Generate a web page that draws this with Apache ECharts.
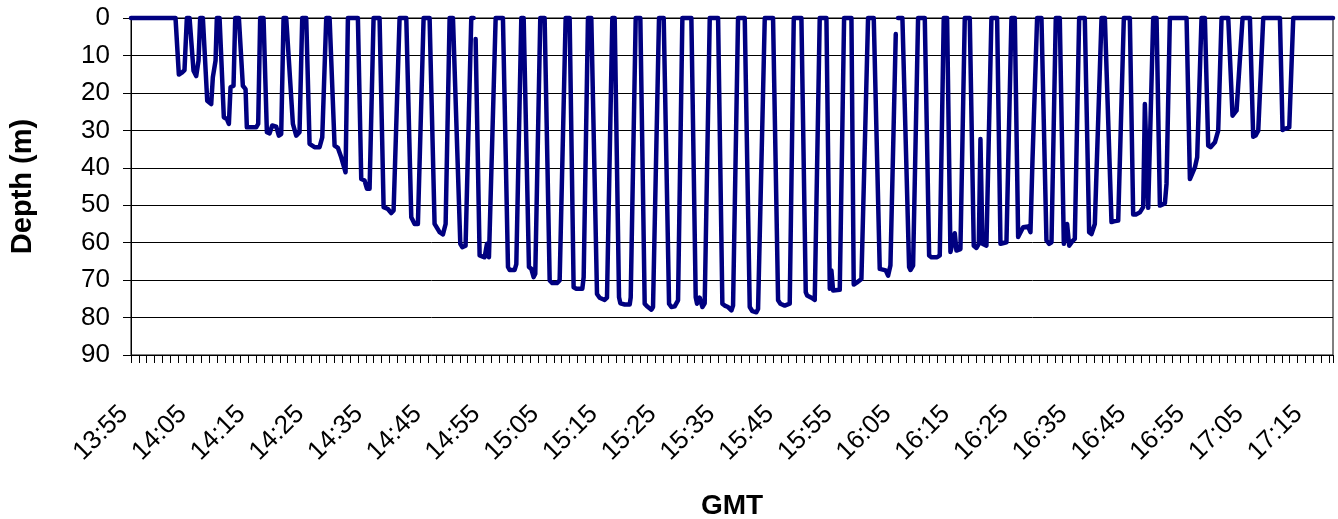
<!DOCTYPE html>
<html>
<head>
<meta charset="utf-8">
<title>Dive depth profile</title>
<script src="https://cdn.jsdelivr.net/npm/echarts@6/dist/echarts.min.js"></script>
<style>
    html, body { margin: 0; padding: 0; background: #fff; }
    #main { width: 1338px; height: 519px; }
</style>
</head>
<body>
<div id="main"></div>
<script>
// minutes after 13:55 GMT, null = gap in the record
var diveMinutes = [
    0, 7.58, 8.15, 8.72, 9.11, 9.51,
    9.97, 10.65, 11.10, 11.50, 11.78,
    12.24, 12.98, 13.66, 13.94, 14.40, 14.62,
    15.08, 15.81, 16.33, 16.67, 16.95, 17.46, 17.75,
    18.37, 19.05, 19.51, 19.73, 21.32, 21.66, 22.00,
    22.57, 23.14, 23.60, 24.05, 24.73, 25.18, 25.58, 25.98,
    26.43, 27.57, 28.14, 28.70, 29.16,
    29.84, 30.41, 31.26, 32.11, 32.57, 33.25,
    33.82, 34.67, 35.24, 35.80, 36.54, 36.94,
    38.64, 39.21, 39.78, 40.18, 40.63, 41.31,
    42.33, 43.02, 43.75, 44.32, 44.72, 45.74,
    46.88, 47.73, 48.30, 48.86, 49.83,
    50.85, 51.70, 52.55, 53.12, 53.58, 54.26,
    54.83, 56.08, 56.42, 56.98, 57.21, 57.95, 58.35,
    null, 58.69, 59.37, 60.22, 60.62, 60.96, 62.10,
    63.34, 64.20, 64.48, 65.33, 65.62, 66.47,
    66.87, 67.77, 68.17, 68.57, 68.85, 69.70,
    70.44, 71.30, 71.75, 72.54, 73.00, 74.02,
    74.70, 75.38, 75.84, 76.86, 77.09, 77.82,
    78.39, 79.36, 79.81, 80.66, 81.06, 81.97,
    82.37, 83.11, 83.34, 84.08, 84.93, 85.10, 85.95,
    86.74, 87.48, 87.88, 88.62, 88.90, 89.92,
    90.72, 91.63, 92.03, 92.59, 93.16, 93.90,
    95.43, 96.17, 96.40, 96.85, 97.31, 97.70, 98.56,
    99.98, 100.71, 101.11, 101.68, 102.25, 102.53, 103.38,
    104.52, 105.37, 105.82, 106.50, 106.79, 107.93,
    109.34, 110.20, 110.59, 111.33, 112.18, 112.87,
    114.17, 114.91, 115.14, 115.88, 116.44, 117.29,
    118.43, 119.00, 119.28, 119.57, 120.70, 121.44,
    122.69, 123.08, 123.65, 124.39, 125.52,
    126.49, 127.51, 127.79, 128.53, 128.93, 129.33, 130.24,
    null, 130.63, 131.37, 132.51, 132.74, 133.19, 134.04,
    135.18, 135.92, 136.31, 137.28, 137.73, 138.41,
    138.98, 139.55, 139.89, 140.29, 140.57, 141.25, 141.99,
    142.84, 143.52, 143.98, 144.38, 144.66, 145.00, 145.68, 145.97, 146.53,
    147.50, 148.07, 148.41, 149.09, 149.37, 149.94,
    150.51, 151.08, 151.36, 151.93, 152.78, 153.18, 153.52, 154.31,
    155.05, 155.90, 156.36, 156.76, 157.49,
    158.17, 158.86, 159.20, 159.42, 159.77, 160.33, 160.73, 161.47,
    162.43, 163.17, 163.57, 164.14, 165.28,
    165.85, 166.98, 167.38, 168.12, 169.08,
    170.10, 170.67, 171.13, 171.81, 172.38, 172.66, 172.94, 173.23, 173.51, 174.08,
    174.65, 175.22, 175.50, 176.07, 176.35, 176.92,
    179.76, 180.33, 180.61, 181.18, 181.57, 182.31,
    182.88, 183.45, 183.85, 184.59, 185.15, 185.72,
    186.86, 187.59, 187.82, 188.28, 189.30,
    190.55, 191.11, 191.51, 191.97, 192.82,
    195.66, 196.11, 196.51, 197.25, 197.93, 204.70
];

// depth in metres, same order as diveMinutes
var diveDepths = [
    0, 0, 15.1, 14.5, 13.9, 0,
    0, 14.1, 15.5, 11.4, 0,
    0, 22.1, 23.0, 15.8, 11.4, 0,
    0, 26.5, 27.0, 28.3, 18.5, 18.1, 0,
    0, 18.1, 19.0, 29.2, 29.2, 28.3, 0,
    0, 30.5, 30.8, 28.7, 29.0, 31.4, 31.0, 0,
    0, 28.3, 31.4, 30.5, 0,
    0, 33.6, 34.5, 34.5, 31.9, 0,
    0, 34.1, 34.7, 37.2, 41.2, 0,
    0, 43.0, 43.4, 45.6, 45.6, 0,
    0, 50.5, 51.0, 52.1, 51.4, 0,
    0, 53.2, 55.0, 55.0, 0,
    0, 55.0, 57.2, 57.8, 55.0, 0,
    0, 60.3, 61.2, 60.8, 60.3, 0, 0,
    null, 5.6, 63.4, 63.9, 60.3, 63.9, 0,
    0, 66.5, 67.3, 67.3, 65.7, 0,
    0, 66.5, 67.0, 69.2, 68.3, 0,
    0, 70.1, 70.8, 70.8, 70.1, 0,
    0, 71.9, 72.3, 72.3, 69.2, 0,
    0, 73.7, 74.7, 75.3, 74.7, 0,
    0, 74.6, 76.2, 76.5, 76.5, 74.6, 0,
    0, 76.3, 77.0, 77.9, 77.2, 0,
    0, 76.3, 77.2, 77.0, 75.4, 0,
    0, 74.6, 76.3, 74.7, 77.2, 76.2, 0,
    0, 76.3, 76.8, 77.2, 78.1, 76.8, 0,
    0, 77.2, 78.3, 78.6, 77.7, 0,
    0, 75.4, 76.3, 76.8, 76.3, 0,
    0, 73.2, 74.1, 74.7, 75.3, 0,
    0, 72.3, 67.4, 72.8, 72.6, 0,
    0, 71.2, 70.6, 69.7, 0,
    0, 67.0, 67.4, 67.4, 68.8, 66.1, 4.3,
    null, 0, 0, 66.5, 67.3, 66.1, 0,
    0, 63.4, 63.9, 63.9, 63.4, 0,
    0, 62.5, 62.8, 57.5, 62.1, 61.7, 0,
    0, 60.8, 61.4, 60.3, 32.3, 60.3, 60.8, 60.8, 0,
    0, 60.3, 60.5, 59.9, 59.4, 0,
    0, 58.5, 59.0, 55.9, 55.7, 57.2, 38.1, 0,
    0, 59.4, 60.3, 59.9, 0,
    0, 60.3, 60.8, 55.0, 60.8, 59.6, 59.0, 0,
    0, 57.2, 57.7, 55.0, 0,
    0, 54.5, 54.3, 54.1, 0,
    0, 52.5, 52.5, 51.9, 50.5, 23.0, 23.0, 50.7, 51.0, 0,
    0, 50.1, 50.4, 49.5, 44.3, 0,
    0, 43.0, 43.2, 39.9, 37.2, 0,
    0, 34.1, 34.5, 33.2, 30.1, 0,
    0, 26.1, 26.3, 24.7, 0,
    0, 31.7, 31.4, 30.1, 0,
    0, 29.9, 29.6, 29.2, 0, 0
];

// x tick labels, one every 10 minutes from 13:55
var timeLabels = ['13:55','14:05','14:15','14:25','14:35','14:45','14:55','15:05','15:15','15:25','15:35',
    '15:45','15:55','16:05','16:15','16:25','16:35','16:45','16:55','17:05','17:15'];

var depthTicks = [0, 10, 20, 30, 40, 50, 60, 70, 80, 90];

var App = function(){

    'use strict';

    var font = '"Liberation Sans", Arial, sans-serif';

    // build [x, y] pairs, gaps become '-'
    var getSeriesData = function(){
        var out = [];
        for (var i = 0; i < diveMinutes.length; i++) {
            if (diveMinutes[i] === null || diveDepths[i] === null) {
                out.push(['-', '-']);
            } else {
                out.push([diveMinutes[i], diveDepths[i]]);
            }
        }
        return out;
    };

    var get_option = function(){
        return {
            animation: false,
            grid: {
                left: 131, right: 5, top: 18, bottom: 164,
                outerBoundsMode: 'none',
                containLabel: false,
                show: true, borderColor: '#000', borderWidth: 1
            },
            xAxis: [
                {
                    // labels every 10 min
                    type: 'value',
                    min: 0, max: 204.7, interval: 10,
                    name: 'GMT',
                    nameLocation: 'middle',
                    nameGap: 137,
                    nameTextStyle: { fontFamily: font, fontSize: 28, fontWeight: 'bold', color: '#000' },
                    axisLine: { show: true, lineStyle: { color: '#000', width: 1 } },
                    axisTick: { show: false },
                    splitLine: { show: false },
                    axisLabel: {
                        rotate: 45,
                        margin: 48,
                        padding: [0, 10, 0, 0],
                        fontFamily: font, fontSize: 26, color: '#000',
                        showMaxLabel: false,
                        formatter: function(v){
                            var k = Math.round(v / 10);
                            if (Math.abs(v - k * 10) > 0.01) return '';
                            return timeLabels[k] || '';
                        }
                    }
                },
                {
                    // minor tick marks, every 80 s
                    type: 'value',
                    position: 'bottom',
                    min: 0, max: 204.7, interval: 4 / 3,
                    axisLine: { show: false },
                    axisTick: { show: true, length: 8, lineStyle: { color: '#000', width: 1 } },
                    axisLabel: { show: false },
                    splitLine: { show: false }
                }
            ],
            yAxis: {
                type: 'value',
                inverse: true,
                min: depthTicks[0], max: depthTicks[depthTicks.length - 1], interval: 10,
                name: 'Depth (m)',
                nameLocation: 'middle',
                nameGap: 94,
                nameTextStyle: { fontFamily: font, fontSize: 29, fontWeight: 'bold', color: '#000' },
                axisLine: { show: true, lineStyle: { color: '#000', width: 1 } },
                axisTick: { show: true, length: 8, lineStyle: { color: '#000' } },
                axisLabel: { margin: 21, fontFamily: font, fontSize: 26, color: '#000' },
                splitLine: { show: true, lineStyle: { color: '#000', width: 1 } }
            },
            series: [
                {
                    name: 'Depth',
                    type: 'line',
                    xAxisIndex: 0,
                    showSymbol: false,
                    clip: false,
                    connectNulls: false,
                    lineStyle: { color: '#000080', width: 4.5, cap: 'round', join: 'round' },
                    itemStyle: { color: '#000080' },
                    data: getSeriesData()
                }
            ]
        };
    };

    return {
        init: function(){
            var chart = echarts.init(document.getElementById('main'), null, { renderer: 'canvas' });
            chart.setOption(get_option());
        }
    };
}();

App.init();
</script>
</body>
</html>
